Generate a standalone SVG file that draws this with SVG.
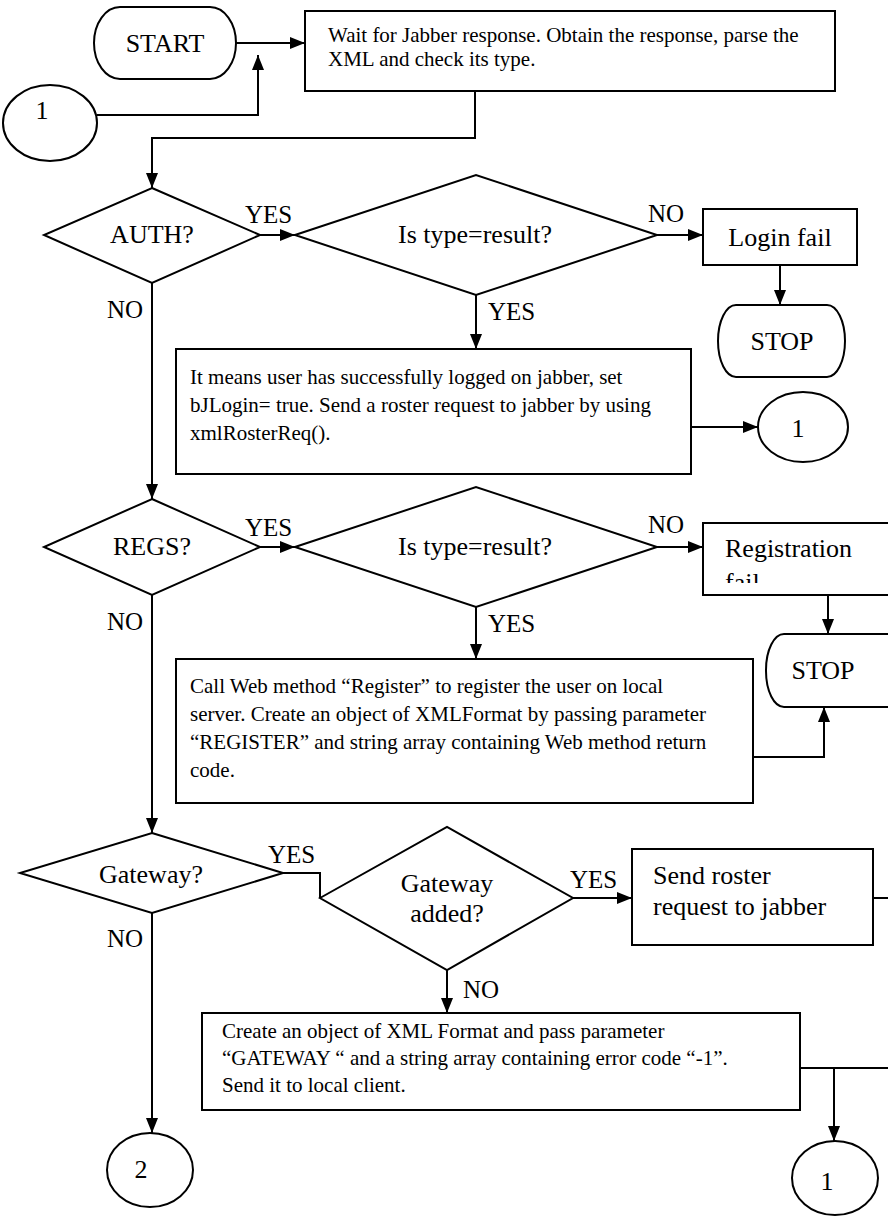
<svg xmlns="http://www.w3.org/2000/svg" width="888" height="1217" viewBox="0 0 888 1217">
  <style>
    .shape { fill: #fff; stroke: #000; stroke-width: 2; }
    .wire { fill: none; stroke: #000; stroke-width: 2; }
    .lbl { font-family: "Liberation Serif", "Times New Roman", serif; font-size: 26px; fill: #000; }
    .yn { font-family: "Liberation Serif", "Times New Roman", serif; font-size: 25px; fill: #000; }
    .body { font-family: "Liberation Serif", "Times New Roman", serif; font-size: 21px; fill: #000; }
    .mid { text-anchor: middle; }
  </style>
  <defs>
    <marker id="arrow" markerUnits="userSpaceOnUse" markerWidth="15" markerHeight="12" refX="15" refY="6" orient="auto">
      <path d="M0,0 L15,6 L0,12 Z" fill="#000"/>
    </marker>
    <clipPath id="regfailClip">
      <rect x="703" y="523" width="185" height="60"/>
    </clipPath>
  </defs>

  <!-- connectors -->
  <g id="connectors" class="wire">
    <path d="M236,43 H305" marker-end="url(#arrow)"/>
    <path d="M97,115 H258 V55" marker-end="url(#arrow)"/>
    <path d="M475,91 V138 H152 V188" marker-end="url(#arrow)"/>
    <path d="M260,235 H295" marker-end="url(#arrow)"/>
    <path d="M657,235 H703" marker-end="url(#arrow)"/>
    <path d="M780,265 V305" marker-end="url(#arrow)"/>
    <path d="M476,295 V349" marker-end="url(#arrow)"/>
    <path d="M691,427 H758" marker-end="url(#arrow)"/>
    <path d="M152,283 V499" marker-end="url(#arrow)"/>
    <path d="M260,547 H295" marker-end="url(#arrow)"/>
    <path d="M657,547 H703" marker-end="url(#arrow)"/>
    <path d="M828,595 V634" marker-end="url(#arrow)"/>
    <path d="M476,607 V659" marker-end="url(#arrow)"/>
    <path d="M753,757 H824 V707" marker-end="url(#arrow)"/>
    <path d="M152,595 V833" marker-end="url(#arrow)"/>
    <path d="M283,873 H320 V898"/>
    <path d="M573,898 H632" marker-end="url(#arrow)"/>
    <path d="M873,898 H888"/>
    <path d="M152,913 V1133" marker-end="url(#arrow)"/>
    <path d="M447,970 V1013" marker-end="url(#arrow)"/>
    <path d="M800,1068 H888"/>
    <path d="M834,1068 V1141" marker-end="url(#arrow)"/>
  </g>

  <!-- connector labels -->
  <g id="labels">
    <text class="yn" x="245" y="223">YES</text>
    <text class="yn" x="648" y="222">NO</text>
    <text class="yn" x="107" y="318">NO</text>
    <text class="yn" x="488" y="320">YES</text>
    <text class="yn" x="245" y="536">YES</text>
    <text class="yn" x="648" y="533">NO</text>
    <text class="yn" x="107" y="630">NO</text>
    <text class="yn" x="488" y="632">YES</text>
    <text class="yn" x="268" y="863">YES</text>
    <text class="yn" x="570" y="888">YES</text>
    <text class="yn" x="107" y="947">NO</text>
    <text class="yn" x="463" y="998">NO</text>
  </g>

  <g id="start">
    <rect class="shape" x="94" y="7" width="142" height="72" rx="26" ry="36"/>
    <text class="lbl mid" x="165" y="52">START</text>
  </g>

  <g id="conn1-top">
    <ellipse class="shape" cx="50" cy="123" rx="47" ry="38"/>
    <text class="lbl mid" x="42" y="119">1</text>
  </g>

  <g id="wait-response">
    <rect class="shape" x="305" y="11" width="530" height="80"/>
    <text class="body" x="328" y="42">Wait for Jabber response. Obtain the response, parse the</text>
    <text class="body" x="328" y="66">XML and check its type.</text>
  </g>

  <g id="auth">
    <polygon class="shape" points="152,188 260,235 152,283 44,235"/>
    <text class="lbl mid" x="152" y="243">AUTH?</text>
  </g>

  <g id="auth-result">
    <polygon class="shape" points="295,235 476,175 657,235 476,295"/>
    <text class="lbl mid" x="475" y="243">Is type=result?</text>
  </g>

  <g id="login-fail">
    <rect class="shape" x="703" y="209" width="154" height="56"/>
    <text class="lbl mid" x="780" y="246">Login fail</text>
  </g>

  <g id="stop1">
    <rect class="shape" x="718" y="305" width="127" height="72" rx="18" ry="36"/>
    <text class="lbl mid" x="782" y="350">STOP</text>
  </g>

  <g id="logged-on">
    <rect class="shape" x="176" y="349" width="515" height="125"/>
    <text class="body" x="190" y="384">It means user has successfully logged on jabber, set</text>
    <text class="body" x="190" y="412">bJLogin= true. Send a roster request to jabber by using</text>
    <text class="body" x="190" y="440">xmlRosterReq().</text>
  </g>

  <g id="conn1-mid">
    <ellipse class="shape" cx="803" cy="427" rx="45" ry="35"/>
    <text class="lbl mid" x="798" y="437">1</text>
  </g>

  <g id="regs">
    <polygon class="shape" points="152,499 260,547 152,595 44,547"/>
    <text class="lbl mid" x="152" y="555">REGS?</text>
  </g>

  <g id="regs-result">
    <polygon class="shape" points="295,547 476,487 657,547 476,607"/>
    <text class="lbl mid" x="475" y="555">Is type=result?</text>
  </g>

  <g id="registration-fail">
    <rect class="shape" x="703" y="523" width="200" height="72"/>
    <g clip-path="url(#regfailClip)">
      <text class="lbl" x="725" y="557">Registration</text>
      <text class="lbl" x="725" y="591">fail</text>
    </g>
  </g>

  <g id="stop2">
    <rect class="shape" x="766" y="634" width="140" height="73" rx="18" ry="36"/>
    <text class="lbl mid" x="823" y="679">STOP</text>
  </g>

  <g id="register-call">
    <rect class="shape" x="176" y="659" width="577" height="144"/>
    <text class="body" x="190" y="693">Call Web method “Register” to register the user on local</text>
    <text class="body" x="190" y="721">server. Create an object of XMLFormat by passing parameter</text>
    <text class="body" x="190" y="749">“REGISTER” and string array containing Web method return</text>
    <text class="body" x="190" y="777">code.</text>
  </g>

  <g id="gateway">
    <polygon class="shape" points="152,833 283,873 152,913 20,873"/>
    <text class="lbl mid" x="151" y="883">Gateway?</text>
  </g>

  <g id="gateway-added">
    <polygon class="shape" points="320,898 447,827 573,898 447,970"/>
    <text class="lbl mid" x="447" y="892">Gateway</text>
    <text class="lbl mid" x="447" y="922">added?</text>
  </g>

  <g id="send-roster">
    <rect class="shape" x="632" y="849" width="241" height="96"/>
    <text class="lbl" x="653" y="884">Send roster</text>
    <text class="lbl" x="653" y="915">request to jabber</text>
  </g>

  <g id="gateway-error">
    <rect class="shape" x="202" y="1013" width="598" height="97"/>
    <text class="body" x="222" y="1038">Create an object of XML Format and pass parameter</text>
    <text class="body" x="222" y="1065">“GATEWAY “ and a string array containing error code “-1”.</text>
    <text class="body" x="222" y="1092">Send it to local client.</text>
  </g>

  <g id="conn2">
    <ellipse class="shape" cx="150" cy="1170" rx="43" ry="37"/>
    <text class="lbl mid" x="141" y="1178">2</text>
  </g>

  <g id="conn1-bottom">
    <ellipse class="shape" cx="835" cy="1178" rx="43" ry="37"/>
    <text class="lbl mid" x="827" y="1190">1</text>
  </g>
</svg>
